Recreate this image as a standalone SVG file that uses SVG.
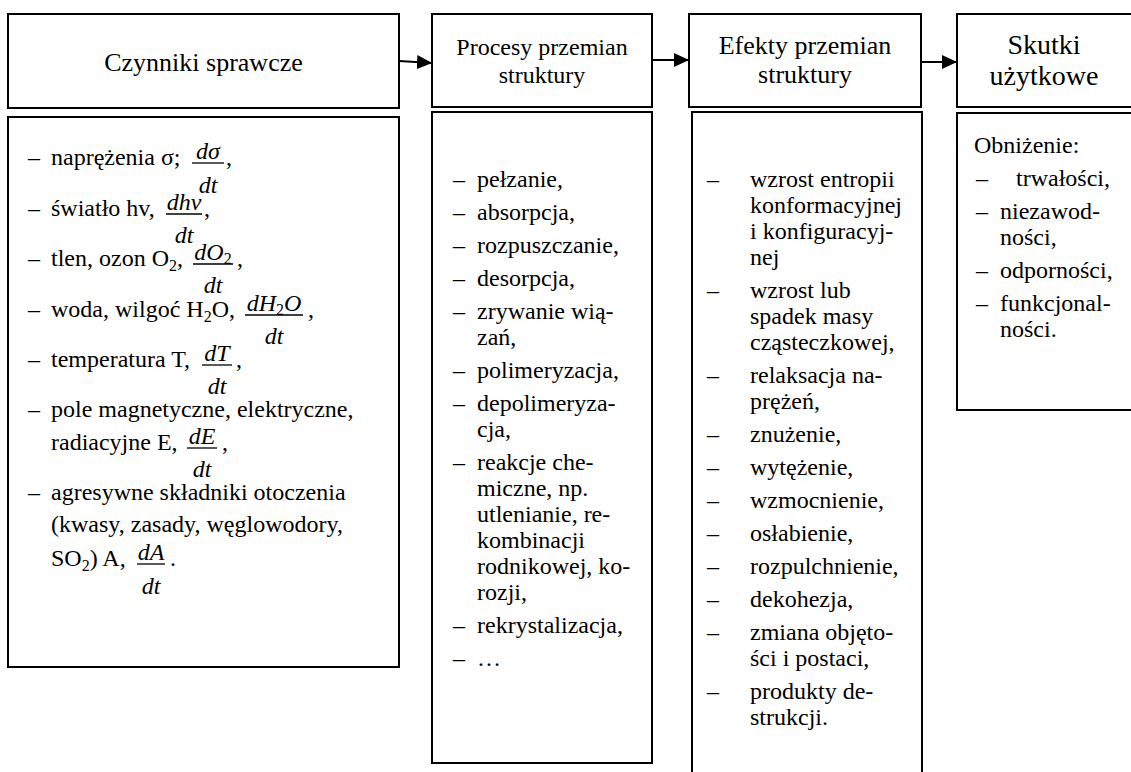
<svg xmlns="http://www.w3.org/2000/svg" width="1131" height="772" viewBox="0 0 1131 772">
<defs>
<style>
.box{fill:#fff;stroke:#000;stroke-width:2}
.t{font-family:"Liberation Serif","Times New Roman",serif;font-size:24px;fill:#000}
.i{font-style:italic}
.c{text-anchor:middle}
.h26{font-size:26px}
.h28{font-size:28px}
.bar{stroke:#000;stroke-width:1.3}
.con{stroke:#000;stroke-width:2;fill:none}
</style>
<marker id="ah" markerWidth="15" markerHeight="14" refX="15" refY="7" orient="auto" markerUnits="userSpaceOnUse">
<path d="M0,0 L15,7 L0,14 z" fill="#000"/>
</marker>
</defs>
<rect width="1131" height="772" fill="#fff"/>

<g id="node-czynniki">
<rect class="box" x="8" y="14" width="391" height="94"/>
<text class="t c h26" x="203.5" y="71">Czynniki sprawcze</text>
<rect class="box" x="8" y="117" width="391" height="550"/>
<text class="t" x="28" y="165">–</text><text class="t" x="51" y="165">naprężenia σ;</text>
<line class="bar" x1="192" y1="163" x2="224" y2="163"/>
<text class="t i c" x="208" y="159">dσ</text><text class="t i c" x="208" y="193">dt</text><text class="t" x="226" y="165">,</text>

<text class="t" x="28" y="216">–</text><text class="t" x="51" y="216">światło hv,</text>
<line class="bar" x1="166" y1="214" x2="202" y2="214"/>
<text class="t i c" x="184" y="210">dhv</text><text class="t i c" x="184" y="243">dt</text><text class="t" x="204" y="216">,</text>

<text class="t" x="28" y="266">–</text><text class="t" x="51" y="266">tlen, ozon O<tspan font-size="16" dy="5">2</tspan><tspan dy="-5">,</tspan></text>
<line class="bar" x1="193" y1="264" x2="233" y2="264"/>
<text class="t c" x="213" y="260"><tspan class="i">dO</tspan><tspan font-size="16" dy="4">2</tspan></text><text class="t i c" x="213" y="293">dt</text><text class="t" x="237" y="266">,</text>

<text class="t" x="28" y="317">–</text><text class="t" x="51" y="317">woda, wilgoć H<tspan font-size="16" dy="5">2</tspan><tspan dy="-5">O,</tspan></text>
<line class="bar" x1="245" y1="315" x2="303" y2="315"/>
<text class="t c" x="274" y="311"><tspan class="i">dH</tspan><tspan font-size="16" dy="4">2</tspan><tspan class="i" dy="-4">O</tspan></text><text class="t i c" x="274" y="344">dt</text><text class="t" x="308" y="317">,</text>

<text class="t" x="28" y="367">–</text><text class="t" x="51" y="367">temperatura T,</text>
<line class="bar" x1="202" y1="365" x2="232" y2="365"/>
<text class="t i c" x="217" y="361">dT</text><text class="t i c" x="217" y="394">dt</text><text class="t" x="236" y="367">,</text>

<text class="t" x="28" y="417">–</text><text class="t" x="51" y="417">pole magnetyczne, elektryczne,</text>
<text class="t" x="51" y="450">radiacyjne E,</text>
<line class="bar" x1="187" y1="448" x2="217" y2="448"/>
<text class="t i c" x="202" y="444">dE</text><text class="t i c" x="202" y="477">dt</text><text class="t" x="222" y="450">,</text>

<text class="t" x="28" y="500">–</text><text class="t" x="51" y="500">agresywne składniki otoczenia</text>
<text class="t" x="51" y="532">(kwasy, zasady, węglowodory,</text>
<text class="t" x="51" y="566">SO<tspan font-size="16" dy="5">2</tspan><tspan dy="-5">) A,</tspan></text>
<line class="bar" x1="137" y1="564" x2="165" y2="564"/>
<text class="t i c" x="151" y="560">dA</text><text class="t i c" x="151" y="594">dt</text><text class="t" x="170" y="566">.</text>
</g>

<g id="node-procesy">
<rect class="box" x="432" y="14" width="220" height="93"/>
<text class="t c" x="542" y="55">Procesy przemian</text>
<text class="t c" x="542" y="83">struktury</text>
<rect class="box" x="432" y="112" width="220" height="651"/>
<text class="t" x="453" y="187">–</text><text class="t" x="477" y="187">pełzanie,</text>
<text class="t" x="453" y="220">–</text><text class="t" x="477" y="220">absorpcja,</text>
<text class="t" x="453" y="253">–</text><text class="t" x="477" y="253">rozpuszczanie,</text>
<text class="t" x="453" y="286">–</text><text class="t" x="477" y="286">desorpcja,</text>
<text class="t" x="453" y="319">–</text><text class="t" x="477" y="319">zrywanie wią-</text>
<text class="t" x="477" y="345">zań,</text>
<text class="t" x="453" y="378">–</text><text class="t" x="477" y="378">polimeryzacja,</text>
<text class="t" x="453" y="411">–</text><text class="t" x="477" y="411">depolimeryza-</text>
<text class="t" x="477" y="437">cja,</text>
<text class="t" x="453" y="470">–</text><text class="t" x="477" y="470">reakcje che-</text>
<text class="t" x="477" y="496">miczne, np.</text>
<text class="t" x="477" y="522">utlenianie, re-</text>
<text class="t" x="477" y="548">kombinacji</text>
<text class="t" x="477" y="574">rodnikowej, ko-</text>
<text class="t" x="477" y="600">rozji,</text>
<text class="t" x="453" y="633">–</text><text class="t" x="477" y="633">rekrystalizacja,</text>
<text class="t" x="453" y="666">–</text><text class="t" x="477" y="666">…</text>
</g>

<g id="node-efekty">
<rect class="box" x="689" y="14" width="232" height="93"/>
<text class="t c h26" x="805" y="54">Efekty przemian</text>
<text class="t c h26" x="805" y="83">struktury</text>
<rect class="box" x="692" y="112" width="230" height="680"/>
<text class="t" x="707" y="187">–</text><text class="t" x="750" y="187">wzrost entropii</text>
<text class="t" x="750" y="213">konformacyjnej</text>
<text class="t" x="750" y="239">i konfiguracyj-</text>
<text class="t" x="750" y="265">nej</text>
<text class="t" x="707" y="298">–</text><text class="t" x="750" y="298">wzrost lub</text>
<text class="t" x="750" y="324">spadek masy</text>
<text class="t" x="750" y="350">cząsteczkowej,</text>
<text class="t" x="707" y="383">–</text><text class="t" x="750" y="383">relaksacja na-</text>
<text class="t" x="750" y="409">prężeń,</text>
<text class="t" x="707" y="442">–</text><text class="t" x="750" y="442">znużenie,</text>
<text class="t" x="707" y="475">–</text><text class="t" x="750" y="475">wytężenie,</text>
<text class="t" x="707" y="508">–</text><text class="t" x="750" y="508">wzmocnienie,</text>
<text class="t" x="707" y="541">–</text><text class="t" x="750" y="541">osłabienie,</text>
<text class="t" x="707" y="574">–</text><text class="t" x="750" y="574">rozpulchnienie,</text>
<text class="t" x="707" y="607">–</text><text class="t" x="750" y="607">dekohezja,</text>
<text class="t" x="707" y="640">–</text><text class="t" x="750" y="640">zmiana objęto-</text>
<text class="t" x="750" y="666">ści i postaci,</text>
<text class="t" x="707" y="699">–</text><text class="t" x="750" y="699">produkty de-</text>
<text class="t" x="750" y="725">strukcji.</text>
</g>

<g id="node-skutki">
<rect class="box" x="957" y="14" width="200" height="93"/>
<text class="t c h28" x="1044" y="54">Skutki</text>
<text class="t c h28" x="1044" y="85">użytkowe</text>
<rect class="box" x="957" y="113" width="200" height="297"/>
<text class="t" x="974" y="153">Obniżenie:</text>
<text class="t" x="976" y="186">–</text><text class="t" x="1016" y="186">trwałości,</text>
<text class="t" x="976" y="219">–</text><text class="t" x="1000" y="219">niezawod-</text>
<text class="t" x="1000" y="245">ności,</text>
<text class="t" x="976" y="278">–</text><text class="t" x="1000" y="278">odporności,</text>
<text class="t" x="976" y="311">–</text><text class="t" x="1000" y="311">funkcjonal-</text>
<text class="t" x="1000" y="337">ności.</text>
</g>

<g id="connectors">
<line class="con" x1="399" y1="61" x2="432" y2="63" marker-end="url(#ah)"/>
<line class="con" x1="652" y1="60" x2="689" y2="60" marker-end="url(#ah)"/>
<line class="con" x1="921" y1="62" x2="957" y2="62" marker-end="url(#ah)"/>
</g>
</svg>
